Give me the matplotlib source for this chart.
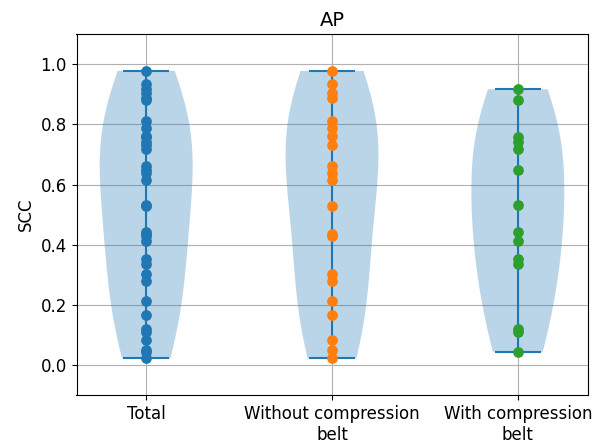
import numpy as np
import matplotlib
matplotlib.use("Agg")
import matplotlib.pyplot as plt

# SCC values
without_belt = [0.978, 0.933, 0.906, 0.889, 0.813, 0.789, 0.763, 0.730,
                0.661, 0.639, 0.614, 0.528, 0.436, 0.430, 0.302, 0.278,
                0.214, 0.167, 0.083, 0.050, 0.022]
with_belt = [0.917, 0.881, 0.757, 0.743, 0.719, 0.648, 0.532, 0.442,
             0.411, 0.352, 0.337, 0.119, 0.111, 0.044]
total = without_belt + with_belt

groups = [total, without_belt, with_belt]
labels = ['Total', 'Without compression\nbelt', 'With compression\nbelt']
colors = ['#1f77b4', '#ff7f0e', '#2ca02c']

fig, ax = plt.subplots(figsize=(6.12, 4.44), dpi=100)
fig.subplots_adjust(left=0.125, right=0.96, top=0.923, bottom=0.11)

pos = [1, 2, 3]
ax.violinplot(groups, positions=pos, bw_method=0.7)
for p, vals, c in zip(pos, groups, colors):
    ax.scatter([p] * len(vals), vals, color=c, s=45, zorder=3)

ax.set_xticks(pos)
ax.set_xticklabels(labels, fontsize=12)
ax.tick_params(axis='y', labelsize=12)
ax.set_ylim(-0.1, 1.1)
ax.set_ylabel('SCC', fontsize=12)
ax.set_title('AP', fontsize=14)
ax.grid(True)
ax.set_axisbelow(True)

fig.savefig('out.png', dpi=100)
